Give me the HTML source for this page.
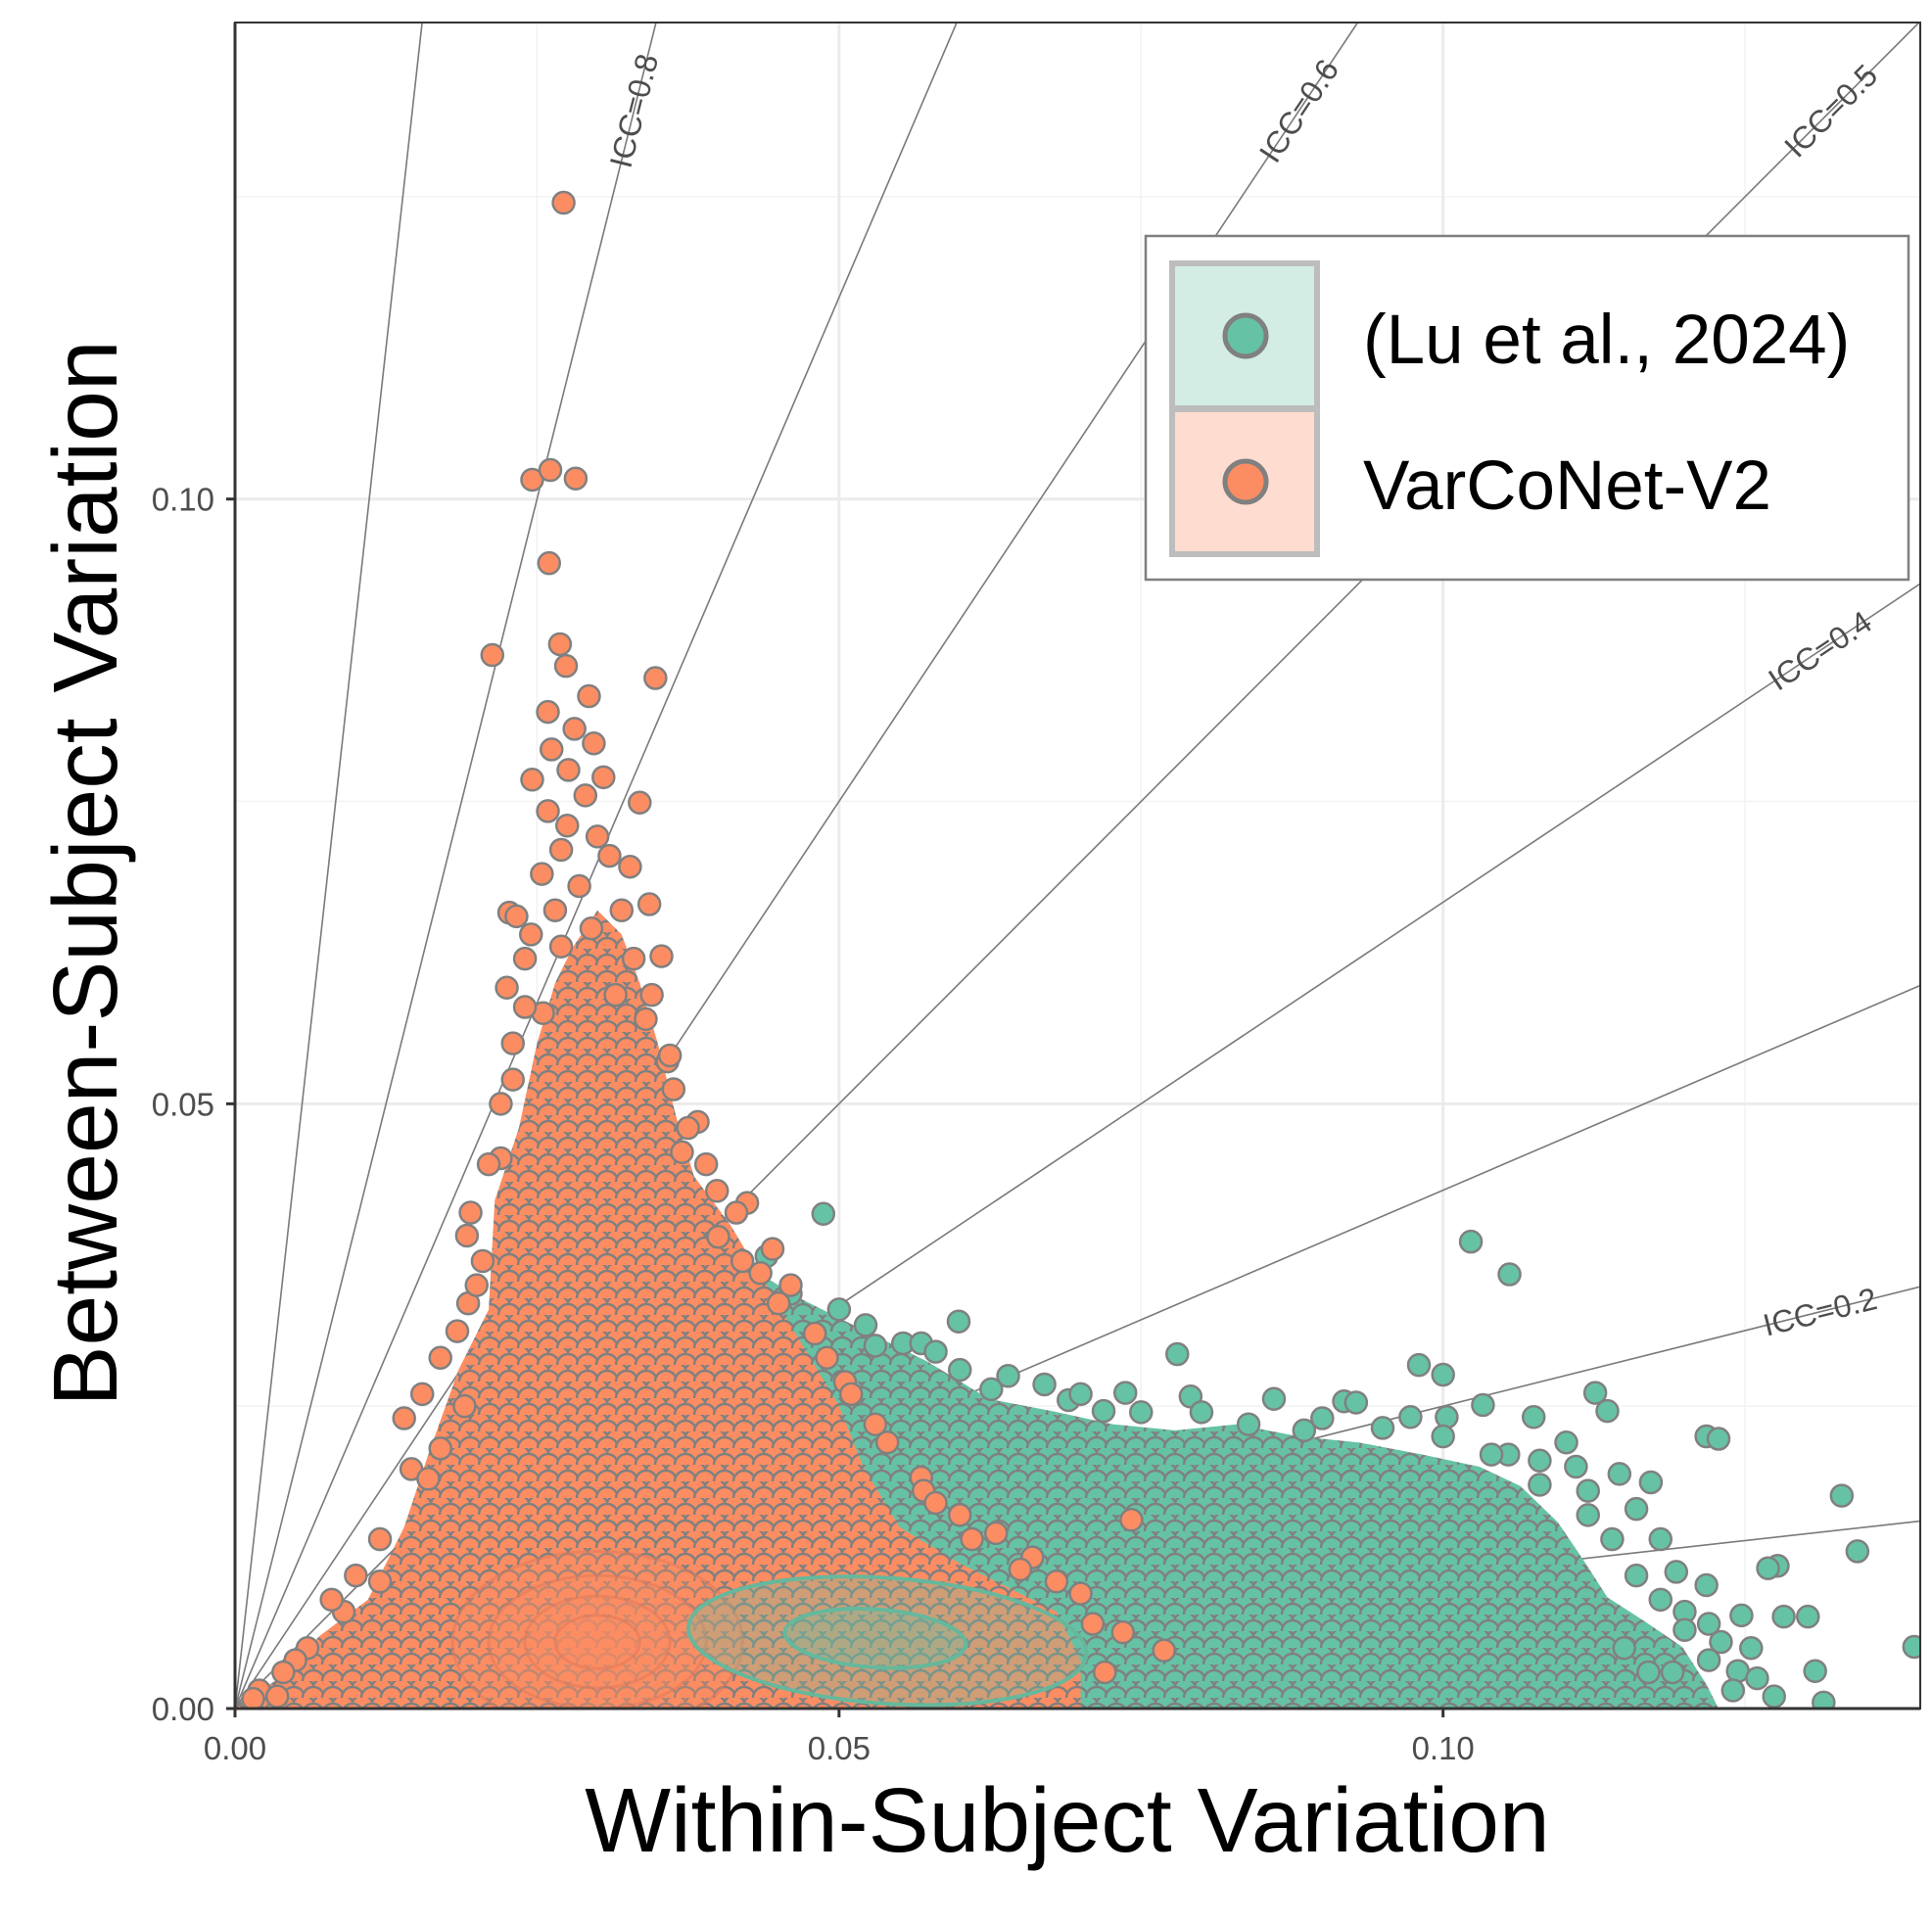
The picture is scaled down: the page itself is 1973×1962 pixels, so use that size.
<!DOCTYPE html>
<html><head><meta charset="utf-8">
<style>
html,body{margin:0;padding:0;background:#fff;}
svg{display:block;font-family:"Liberation Sans",Arial,sans-serif;}
</style></head>
<body>
<svg id="chart" width="1973" height="1962" viewBox="0 0 1973 1962" xmlns="http://www.w3.org/2000/svg">
<defs>
<pattern id="patO" patternUnits="userSpaceOnUse" width="20" height="17">
<rect width="20" height="17" fill="#fc8d62"/>
<circle cx="0" cy="0" r="11" fill="#fc8d62" stroke="#808080" stroke-width="2.5"/>
<circle cx="20" cy="0" r="11" fill="#fc8d62" stroke="#808080" stroke-width="2.5"/>
<circle cx="10" cy="8.5" r="11" fill="#fc8d62" stroke="#808080" stroke-width="2.5"/>
<circle cx="0" cy="17" r="11" fill="#fc8d62" stroke="#808080" stroke-width="2.5"/>
<circle cx="20" cy="17" r="11" fill="#fc8d62" stroke="#808080" stroke-width="2.5"/>
</pattern>
<pattern id="patG" patternUnits="userSpaceOnUse" width="20" height="17">
<rect width="20" height="17" fill="#66c2a5"/>
<circle cx="0" cy="0" r="11" fill="#66c2a5" stroke="#808080" stroke-width="2.5"/>
<circle cx="20" cy="0" r="11" fill="#66c2a5" stroke="#808080" stroke-width="2.5"/>
<circle cx="10" cy="8.5" r="11" fill="#66c2a5" stroke="#808080" stroke-width="2.5"/>
<circle cx="0" cy="17" r="11" fill="#66c2a5" stroke="#808080" stroke-width="2.5"/>
<circle cx="20" cy="17" r="11" fill="#66c2a5" stroke="#808080" stroke-width="2.5"/>
</pattern>
<clipPath id="plotClip"><rect x="240" y="23" width="1721" height="1722"/></clipPath>
</defs>
<g id="grid"></g>
<g id="icc" clip-path="url(#plotClip)"></g>
<g id="marks" clip-path="url(#plotClip)"></g>
<g id="icclabels"></g>
<g id="axes"></g>
<g id="legend"></g>
</svg>
<script>
// ---- data (units: thousandths of variation) ----
const xTicks = [0, 0.05, 0.10];
const xTickLabels = ["0.00", "0.05", "0.10"];
const yTicks = [0, 0.05, 0.10];
const yTickLabels = ["0.00", "0.05", "0.10"];
const minorTicks = [0.025, 0.075, 0.125];
const iccValues = [0.1, 0.2, 0.3, 0.4, 0.5, 0.6, 0.7, 0.8, 0.9];
const iccLabeled = [0.8, 0.6, 0.5, 0.4, 0.2];
const seriesNames = ["(Lu et al., 2024)", "VarCoNet-V2"];
// dense-region envelopes (thousandths)
const luRegion = [[0,0],[5,1],[15,6],[30,15],[40,30],[42,36.8],[47,33.8],[52.2,31.2],[57.3,28.7],[62.4,25.6],[67.6,24.6],[72.7,23.5],[77.8,23],[82.9,23.5],[88,22.5],[93,22],[98.3,21],[103,20],[106.4,18.4],[109.5,15.4],[111.6,12.3],[113.6,9.2],[116.7,7.2],[119.8,5.1],[121.8,2],[122.8,0]];
const vcRegion = [[0,0],[3,2],[7,6],[11,9],[14,15],[16,21],[18.5,28],[21,33],[21.5,42],[23.5,48],[25,55],[26.5,60],[28,63],[30,66],[32,64],[33.5,60],[35,55],[36.5,49],[38,44],[41,40],[44,35],[47,30],[50,25],[52,20],[55,15],[60,12],[64,10],[68,8],[70,4],[70,0]];
// individual points (thousandths)
const luPoints = [[48.7,40.9],[102.3,38.6],[105.5,35.9],[78,29.3],[59.9,32],[98,28.4],[100,27.6],[133,17.6],[134.3,13],[127.7,11.8],[128.2,7.6],[130.2,7.6],[139,5.1],[121.8,22.5],[122.8,22.3],[112.6,26.1],[113.6,24.6],[91.8,25.4],[92.8,25.3],[107.5,24.1],[103.3,25.1],[117.2,18.7],[114.6,19.4],[126.9,11.6],[124.7,7.7],[121.8,10.2],[119.3,11.3],[130.8,3.1],[131.5,0.5],[127.4,1],[124.4,3.1],[79.1,25.8],[73.7,26.1],[71.9,24.6],[67,26.8],[62.6,26.4],[55.3,30.2],[56.8,30.2],[52.2,31.7],[46,34.3],[44,37.4],[110.2,22],[105.4,21],[100.3,24.1],[97.3,24.1],[86,25.6],[88.5,23],[83.9,23.5],[118,14],[116,16.5],[120,8],[123,5.5],[125.5,5],[117,3],[126,2.5],[112,18],[108,20.5],[95,23.2],[90,24],[75,24.5],[69,25.5],[64,27.5],[58,29.5],[50,33],[114,14],[116,11],[118,9],[120,6.5],[122,4],[124,1.5],[112,16],[108,18.5],[104,21],[100,22.5],[80,24.5],[70,26],[60,28],[53,30],[122,7],[119,3],[115,5],[111,20]];
const vcPoints = [[27.2,124.5],[24.6,101.6],[26.1,102.4],[28.2,101.7],[26,94.7],[21.3,87.1],[34.8,85.2],[26.9,88],[27.4,86.2],[25.9,82.4],[29.3,83.7],[28.1,81],[29.7,79.8],[26.2,79.3],[24.6,76.8],[27.6,77.6],[33.5,74.9],[25.9,74.2],[30,72.1],[25.4,69],[32.7,69.6],[34.3,66.5],[22.7,65.8],[23.3,65.5],[35.3,62.2],[22.5,59.6],[35.8,53.5],[36.3,51.2],[38.3,48.5],[19.2,39.1],[39.9,42.8],[42.4,41.8],[19.3,33.5],[18.4,31.2],[17,21.5],[14.6,19.8],[74.2,15.6],[76.9,4.8],[73.5,6.3],[56.8,19.1],[27,71],[28.5,68],[31,70.5],[29,75.5],[27.5,73],[30.5,77],[26.5,66],[24,62],[33,62],[31.5,59],[25.5,57.5],[34,57],[23,52],[37,46],[22,45.5],[20.5,37],[40,39],[42,37],[43.5,36],[45,33.5],[48,31],[50.5,27],[53,23.5],[57,18],[60,16],[63,14.5],[66,12.5],[70,9.5],[71,7],[72,3],[12,10.5],[9,8],[6,5],[2,1.5],[3.5,1],[1.5,0.8],[16,19],[14,24],[15.5,26],[17,29],[20,35],[19.5,41],[21,45],[22,50],[23,55],[24,58],[19,25],[12,14],[10,11],[8,9],[5,4],[4,3],[24.5,64],[27,63],[29.5,64.5],[32,66],[34.5,59],[36,54],[37.5,48],[39,45],[41.5,41],[44.5,38],[46,35],[49,29],[51,26],[54,22],[58,17],[61,14],[65,11.5],[68,10.5]];
const vcContour = [[30,5.5,12,7.5],[30,5.5,9,5.5],[30,5.5,6,3.8],[30,5.5,3.5,2.2]];
const luContour = [[54,5.6,16.5,5.2],[53,5.8,7.5,2.4]];

// ---- scales ----
const X0 = 240, X1 = 1961, Y0 = 1745, Y1 = 23;
const xMax = 0.1395, yMax = 0.1394;
function sx(v){ return X0 + v / xMax * (X1 - X0); }
function sy(v){ return Y0 - v / yMax * (Y0 - Y1); }
function sxk(v){ return sx(v/1000); }
function syk(v){ return sy(v/1000); }
const NS = "http://www.w3.org/2000/svg";
function mk(tag, attrs, parent){
  const e = document.createElementNS(NS, tag);
  for (const k in attrs) e.setAttribute(k, attrs[k]);
  parent.appendChild(e); return e;
}
const grid = document.getElementById('grid');
const icc = document.getElementById('icc');
const marks = document.getElementById('marks');
const icclabels = document.getElementById('icclabels');
const axes = document.getElementById('axes');
const legend = document.getElementById('legend');

mk('rect', {x:X0, y:Y1, width:X1-X0, height:Y0-Y1, fill:'#fff'}, grid);
minorTicks.forEach(t => {
  let a = mk('line', {x1:sx(t), x2:sx(t), y1:Y1, y2:Y0, stroke:'#f2f2f2', 'stroke-width':1.5}, grid);
  
  
  let b = mk('line', {x1:X0, x2:X1, y1:sy(t), y2:sy(t), stroke:'#f2f2f2', 'stroke-width':1.5}, grid);
  
  
});
xTicks.forEach(t => {
  let a = mk('line', {x1:sx(t), x2:sx(t), y1:Y1, y2:Y0, stroke:'#ebebeb', 'stroke-width':3}, grid);
  
  
});
yTicks.forEach(t => {
  let b = mk('line', {x1:X0, x2:X1, y1:sy(t), y2:sy(t), stroke:'#ebebeb', 'stroke-width':3}, grid);
  
  
});

iccValues.forEach(c => {
  const slope = c/(1-c);
  const xe = Math.min(xMax, yMax/slope);
  let l = mk('line', {x1:sx(0), y1:sy(0), x2:sx(xe), y2:sy(xe*slope), stroke:'#7a7a7a', 'stroke-width':1.6}, icc);
  
  
});

function poly(arr, fill, name){
  const pts = arr.map(p => sxk(p[0]) + ',' + syk(p[1])).join(' ');
  let p = mk('polygon', {points:pts, fill:fill}, marks);
  
  
}
poly(luRegion, 'url(#patG)', 'lu-dense-region');
luPoints.forEach(p => {
  let c = mk('circle', {cx:sxk(p[0]), cy:syk(p[1]), r:11, fill:'#66c2a5', stroke:'#808080', 'stroke-width':2.5}, marks);
  
  
});
poly(vcRegion, 'url(#patO)', 'varconet-dense-region');
vcPoints.forEach(p => {
  let c = mk('circle', {cx:sxk(p[0]), cy:syk(p[1]), r:11, fill:'#fc8d62', stroke:'#808080', 'stroke-width':2.5}, marks);
  
  
});
vcContour.forEach(e => {
  let c = mk('ellipse', {cx:sxk(e[0]), cy:syk(e[1]), rx:sxk(e[2])-X0, ry:Y0-syk(e[3]), fill:'rgba(252,141,98,0.3)', stroke:'rgba(220,120,90,0.5)', 'stroke-width':3}, marks);
  
  
});
luContour.forEach(e => {
  let c = mk('ellipse', {cx:sxk(e[0]), cy:syk(e[1]), rx:sxk(e[2])-X0, ry:Y0-syk(e[3]), fill:'rgba(102,194,165,0.3)', stroke:'#66b89c', 'stroke-width':4, transform:'rotate(4 ' + sxk(e[0]) + ' ' + syk(e[1]) + ')'}, marks);
  
  
});

iccLabeled.forEach(c => {
  const slope = c/(1-c);
  let xv, yv;
  if (slope >= 1) { yv = 0.1321; xv = yv/slope; } else { xv = 0.1312; yv = xv*slope; }
  const ang = -Math.atan(slope)*180/Math.PI;
  let t = mk('text', {x:sx(xv), y:sy(yv), 'font-size':32, fill:'#4d4d4d', 'text-anchor':'middle', 'dominant-baseline':'central', transform:'rotate(' + ang + ' ' + sx(xv) + ' ' + sy(yv) + ')'}, icclabels);
  t.textContent = 'ICC=' + c;
  
  
});

mk('rect', {x:X0, y:Y1, width:X1-X0, height:Y0-Y1, fill:'none', stroke:'#333', 'stroke-width':2}, axes);
mk('line', {x1:X0, x2:X1, y1:Y0, y2:Y0, stroke:'#333', 'stroke-width':3}, axes);
mk('line', {x1:X0, x2:X0, y1:Y1, y2:Y0, stroke:'#333', 'stroke-width':3}, axes);
xTicks.forEach((t,i) => {
  mk('line', {x1:sx(t), x2:sx(t), y1:Y0, y2:Y0+9, stroke:'#333', 'stroke-width':3}, axes);
  let l = mk('text', {x:sx(t), y:1797, 'font-size':33, fill:'#4d4d4d', 'text-anchor':'middle'}, axes);
  l.textContent = xTickLabels[i];
  
  
});
yTicks.forEach((t,i) => {
  mk('line', {x1:X0-9, x2:X0, y1:sy(t), y2:sy(t), stroke:'#333', 'stroke-width':3}, axes);
  let l = mk('text', {x:219, y:sy(t)+12, 'font-size':33, fill:'#4d4d4d', 'text-anchor':'end'}, axes);
  l.textContent = yTickLabels[i];
  
  
});
let xt = mk('text', {x:1090, y:1891, 'font-size':93, fill:'#000', 'text-anchor':'middle'}, axes);
xt.textContent = 'Within-Subject Variation';


let yt = mk('text', {x:0, y:0, 'font-size':93, fill:'#000', 'text-anchor':'middle', transform:'translate(119 892) rotate(-90)'}, axes);
yt.textContent = 'Between-Subject Variation';



let lb = mk('rect', {x:1170, y:241, width:779, height:351, fill:'#fff', stroke:'#7f7f7f', 'stroke-width':2.5}, legend);


const keyFill = ['#d3ede4', '#fedccf'];
const keyDot = ['#66c2a5', '#fc8d62'];
seriesNames.forEach((n,i) => {
  const ky = 269 + i*149;
  let k = mk('rect', {x:1197, y:ky, width:148, height:148, fill:keyFill[i], stroke:'#bdbdbd', 'stroke-width':6}, legend);
  
  
  let d = mk('circle', {cx:1272, cy:ky+74, r:21, fill:keyDot[i], stroke:'#808080', 'stroke-width':5}, legend);
  
  
  let t = mk('text', {x:1392, y:ky+102, 'font-size':71, fill:'#000'}, legend);
  t.textContent = n;
  
  
});
</script>
</body></html>
